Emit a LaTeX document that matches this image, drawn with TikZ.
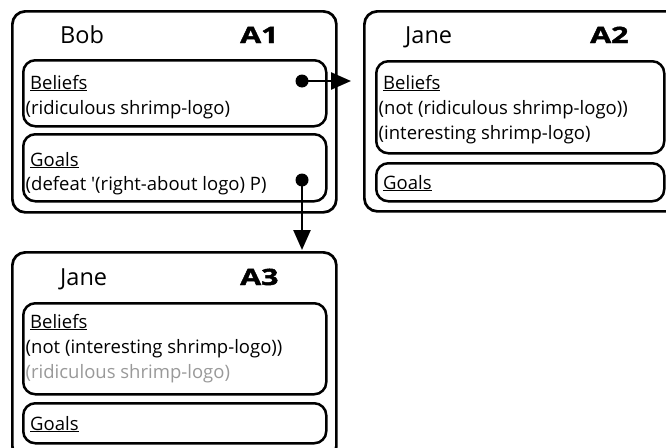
\documentclass[tikz,border=0pt]{standalone}
\usepackage{fontspec}
\newfontfamily\diagfont{Open Sans}[Ligatures={NoCommon}]
\newfontfamily\idfont{Open Sans}[BoldFeatures={FakeStretch=1.35,FakeBold=2}]
\usetikzlibrary{arrows.meta}
\definecolor{fadedgray}{HTML}{999999}
\begin{document}
\begin{tikzpicture}[x=1pt,y=-1pt,
  outerbox/.style={draw, line width=2.7pt, rounded corners=13pt, inner sep=0pt, anchor=north west},
  innerbox/.style={draw, line width=2.5pt, rounded corners=12pt, inner sep=0pt, anchor=north west},
  titletext/.style={anchor=base west, inner sep=0pt, font=\diagfont\fontsize{23.5}{26}\selectfont},
  agenttext/.style={anchor=base west, inner sep=0pt, font=\idfont\bfseries\fontsize{22.5}{26}\selectfont},
  bodytext/.style={anchor=base west, inner sep=0pt, font=\diagfont\fontsize{18.5}{25}\selectfont},
  dot/.style={circle, fill=black, inner sep=0pt, minimum size=13pt},
  arr/.style={line width=2.5pt, -{Triangle[length=20pt,width=17pt]}}]
\useasboundingbox (0,0) rectangle (666,447);
\clip (0,0) rectangle (666,447);

% A1
\node[outerbox, minimum width=324pt, minimum height=201pt] (a1) at (11,10) {};
\node[innerbox, minimum width=303pt, minimum height=66pt] (a1b) at (22,59) {};
\node[innerbox, minimum width=303pt, minimum height=67pt] (a1g) at (22,133) {};
\node[titletext] (a1name) at (60,43) {Bob};
\node[agenttext] (a1id) at (240,43) {A1};
\node[bodytext] (a1bl) at (30,89) {\underline{Beliefs}};
\node[bodytext] (a1b1) at (25.5,114) {(ridiculous shrimp-logo)};
\node[bodytext] (a1gl) at (30,166) {\underline{Goals}};
\node[bodytext] (a1g1) at (25.5,190) {(defeat '(right-about logo) P)};

% A2
\node[outerbox, minimum width=327pt, minimum height=200pt] (a2) at (363,10) {};
\node[innerbox, minimum width=288pt, minimum height=92pt] (a2b) at (375,60) {};
\node[innerbox, minimum width=288pt, minimum height=38pt] (a2g) at (375,162) {};
\node[titletext] (a2name) at (405,43) {Jane};
\node[agenttext] (a2id) at (590,43) {A2};
\node[bodytext] (a2bl) at (383,89) {\underline{Beliefs}};
\node[bodytext] (a2b1) at (378.5,114) {(not (ridiculous shrimp-logo))};
\node[bodytext] (a2b2) at (378.5,139) {(interesting shrimp-logo)};
\node[bodytext] (a2gl) at (383,189) {\underline{Goals}};

% A3
\node[outerbox, minimum width=324pt, minimum height=207pt] (a3) at (11,251) {};
\node[innerbox, minimum width=303pt, minimum height=91pt] (a3b) at (22,302) {};
\node[innerbox, minimum width=303pt, minimum height=40pt] (a3g) at (22,402) {};
\node[titletext] (a3name) at (60,285) {Jane};
\node[agenttext] (a3id) at (240,285) {A3};
\node[bodytext] (a3bl) at (30,328) {\underline{Beliefs}};
\node[bodytext] (a3b1) at (25.5,353) {(not (interesting shrimp-logo))};
\node[bodytext, text=fadedgray] (a3b2) at (25.5,378) {(ridiculous shrimp-logo)};
\node[bodytext] (a3gl) at (30,430) {\underline{Goals}};

% connectors
\node[dot] (d1) at (302,81) {};
\node[dot] (d2) at (302,180) {};
\coordinate (t1) at (351,81);
\coordinate (t2) at (302,250);
\draw[arr] (d1.center) -- (t1);
\draw[arr] (d2.center) -- (t2);
\end{tikzpicture}
\end{document}
